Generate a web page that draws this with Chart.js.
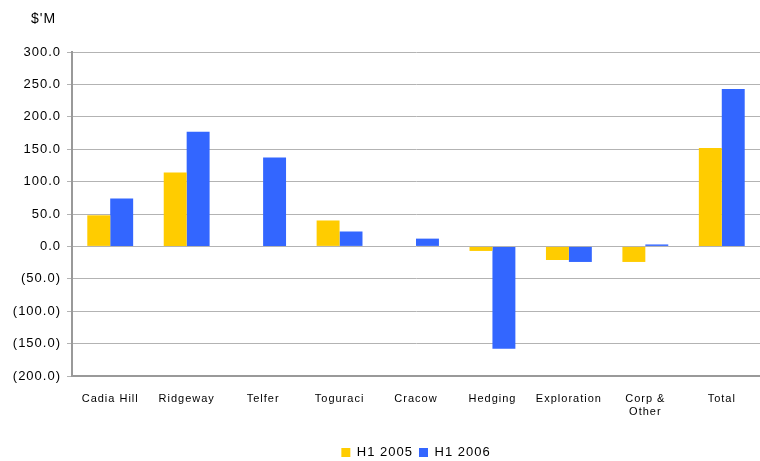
<!DOCTYPE html>
<html>
<head>
<meta charset="utf-8">
<script src="https://cdn.jsdelivr.net/npm/chart.js@4"></script>
<style>
  html, body { margin: 0; padding: 0; background: #fff; }
  #wrap { width: 760px; height: 461px; position: relative; }
</style>
</head>
<body>
<div id="wrap"><canvas id="chart"></canvas></div>
<script>
// categories and values ($'M)
const categories = ["Cadia Hill", "Ridgeway", "Telfer", "Toguraci", "Cracow", "Hedging", "Exploration", ["Corp &", "Other"], "Total"];
const h12005 = [48, 114, 0, 40, 0, -7, -21, -24, 152];
const h12006 = [74, 177, 137, 23, 12, -158, -24, 3, 243];
const seriesNames = ["H1 2005", "H1 2006"];

const FONT = "'Liberation Sans', Arial, sans-serif";

// the original text is a bit spaced out
const spacing = {
  id: "spacing",
  beforeLayout(chart) { chart.ctx.letterSpacing = "1px"; },
  beforeDraw(chart) { chart.ctx.letterSpacing = "1px"; },
};

// push the legend a little lower, nearer the bottom edge
const LEGEND_SHIFT = 8;
const legendShift = {
  id: "legendShift",
  afterLayout(chart) {
    const lg = chart.legend;
    if (!lg) return;
    lg.top += LEGEND_SHIFT;
    lg.bottom += LEGEND_SHIFT;
    if (lg.legendHitBoxes) lg.legendHitBoxes.forEach(b => { b.top += LEGEND_SHIFT; });
  },
};

// unit label at top left
const unitLabel = {
  id: "unitLabel",
  afterDraw(chart) {
    const ctx = chart.ctx;
    ctx.save();
    ctx.font = "14px " + FONT;
    ctx.fillStyle = "#000";
    ctx.textBaseline = "middle";
    ctx.fillText("$'M", 31, 19);
    ctx.restore();
  },
};

const chart = new Chart(document.getElementById("chart"), {
  type: "bar",
  data: {
    labels: categories,
    datasets: [
      { label: seriesNames[0], data: h12005, backgroundColor: "#FFCC00" },
      { label: seriesNames[1], data: h12006, backgroundColor: "#3366FF" },
    ],
  },
  options: {
    responsive: true,
    maintainAspectRatio: false,
    animation: false,
    layout: { padding: { top: 52, right: 0, left: 0, bottom: 0 } },
    datasets: { bar: { barPercentage: 1, categoryPercentage: 0.6 } },
    plugins: {
      tooltip: { enabled: false },
      legend: {
        position: "bottom",
        fullSize: false,
        labels: {
          boxWidth: 9,
          boxHeight: 9,
          padding: 6,
          color: "#000",
          font: { family: FONT, size: 13 },
        },
      },
    },
    scales: {
      x: {
        grid: { display: false },
        border: { display: true, color: "#999", width: 2 },
        ticks: {
          color: "#000",
          maxRotation: 0,
          autoSkip: false,
          padding: 8,
          font: { family: FONT, size: 11 },
        },
        afterFit: function (scale) { scale.height = 56; },
      },
      y: {
        min: -200,
        max: 300,
        ticks: {
          stepSize: 50,
          color: "#000",
          padding: 6,
          font: { family: FONT, size: 13 },
          callback: function (v) {
            return v < 0 ? "(" + (-v).toFixed(1) + ")" : v.toFixed(1);
          },
        },
        grid: { color: "#b3b3b3", lineWidth: 1, tickLength: 5 },
        border: { color: "#999", width: 2 },
        afterFit: function (scale) { scale.width = 72; },
      },
    },
  },
  plugins: [spacing, legendShift, unitLabel],
});
</script>
</body>
</html>
